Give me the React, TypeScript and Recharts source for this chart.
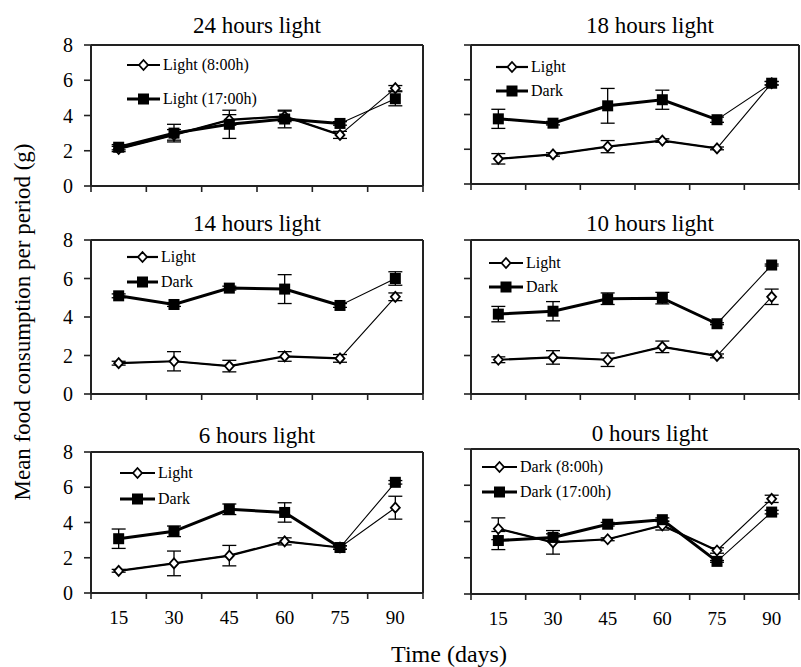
import React from 'react';
import { LineChart, Line, XAxis, YAxis, ErrorBar, ReferenceLine } from 'recharts';

const days = [15, 30, 45, 60, 75, 90];
const yTicks = [0, 2, 4, 6, 8];
const bandEdges = [7.5, 22.5, 37.5, 52.5, 67.5, 82.5, 97.5];

// 24 hours light
const h24Open = [2.1, 2.9, 3.75, 3.95, 2.9, 5.55];
const h24OpenErr = [0.15, 0.3, 0.3, 0.3, 0.2, 0.15];
const h24Filled = [2.2, 3.0, 3.5, 3.8, 3.55, 4.95];
const h24FilledErr = [0.15, 0.5, 0.8, 0.5, 0.1, 0.4];

// 18 hours light
const h18Open = [1.45, 1.7, 2.15, 2.5, 2.05, 5.8];
const h18OpenErr = [0.3, 0.1, 0.35, 0.1, 0.08, 0.1];
const h18Filled = [3.75, 3.5, 4.5, 4.85, 3.7, 5.8];
const h18FilledErr = [0.55, 0.1, 1.0, 0.55, 0.15, 0.1];

// 14 hours light
const h14Open = [1.6, 1.7, 1.45, 1.95, 1.85, 5.05];
const h14OpenErr = [0.1, 0.5, 0.3, 0.25, 0.2, 0.2];
const h14Filled = [5.1, 4.65, 5.5, 5.45, 4.6, 6.0];
const h14FilledErr = [0.1, 0.1, 0.1, 0.75, 0.1, 0.35];

// 10 hours light
const h10Open = [1.78, 1.9, 1.78, 2.45, 1.98, 5.05];
const h10OpenErr = [0.15, 0.35, 0.35, 0.3, 0.1, 0.4];
const h10Filled = [4.15, 4.3, 4.95, 4.98, 3.65, 6.7];
const h10FilledErr = [0.4, 0.5, 0.3, 0.3, 0.05, 0.05];

// 6 hours light
const h6Open = [1.26, 1.68, 2.12, 2.93, 2.58, 4.84];
const h6OpenErr = [0.08, 0.7, 0.58, 0.2, 0.1, 0.65];
const h6Filled = [3.08, 3.5, 4.75, 4.57, 2.58, 6.28];
const h6FilledErr = [0.55, 0.3, 0.3, 0.55, 0.1, 0.1];

// 0 hours light
const h0Open = [3.6, 2.85, 3.02, 3.78, 2.4, 5.25];
const h0OpenErr = [0.6, 0.65, 0.08, 0.25, 0.15, 0.2];
const h0Filled = [2.95, 3.12, 3.85, 4.1, 1.8, 4.52];
const h0FilledErr = [0.5, 0.2, 0.1, 0.1, 0.05, 0.1];

const FONT = "'Liberation Serif', 'DejaVu Serif', serif";
const AXIS = '#222';
const TOP = 14;

const Diamond = (props: any) => {
  const { cx, cy } = props;
  if (cx == null || cy == null) return <g />;
  return (
    <path
      d={`M${cx},${cy - 5}L${cx + 4.5},${cy}L${cx},${cy + 5}L${cx - 4.5},${cy}Z`}
      fill="#fff"
      stroke="#000"
      strokeWidth={1.8}
    />
  );
};

const Square = (props: any) => {
  const { cx, cy } = props;
  if (cx == null || cy == null) return <g />;
  return <rect x={cx - 5.5} y={cy - 5.5} width={11} height={11} fill="#000" />;
};

const panels = [
  { title: '24 hours light', labels: ['Light (8:00h)', 'Light (17:00h)'], open: h24Open, openErr: h24OpenErr, filled: h24Filled, filledErr: h24FilledErr,
    box: { x: 91, y: 45, w: 332, h: 141 }, titlePos: [257, 33], leg: { x1: 127, x2: 160, y1: 65, y2: 99 }, yLabels: true, xLabels: false },
  { title: '18 hours light', labels: ['Light', 'Dark'], open: h18Open, openErr: h18OpenErr, filled: h18Filled, filledErr: h18FilledErr,
    box: { x: 471, y: 45, w: 328, h: 139 }, titlePos: [650, 33], leg: { x1: 496, x2: 528, y1: 67, y2: 91 }, yLabels: false, xLabels: false },
  { title: '14 hours light', labels: ['Light', 'Dark'], open: h14Open, openErr: h14OpenErr, filled: h14Filled, filledErr: h14FilledErr,
    box: { x: 91, y: 240, w: 332, h: 154 }, titlePos: [257, 231], leg: { x1: 127, x2: 158, y1: 257, y2: 282 }, yLabels: true, xLabels: false },
  { title: '10 hours light', labels: ['Light', 'Dark'], open: h10Open, openErr: h10OpenErr, filled: h10Filled, filledErr: h10FilledErr,
    box: { x: 471, y: 240, w: 328, h: 154 }, titlePos: [650, 231], leg: { x1: 489, x2: 523, y1: 263, y2: 287 }, yLabels: false, xLabels: false },
  { title: '6 hours light', labels: ['Light', 'Dark'], open: h6Open, openErr: h6OpenErr, filled: h6Filled, filledErr: h6FilledErr,
    box: { x: 91, y: 452, w: 332, h: 141 }, titlePos: [257, 443], leg: { x1: 120, x2: 155, y1: 473, y2: 499 }, yLabels: true, xLabels: true },
  { title: '0 hours light', labels: ['Dark (8:00h)', 'Dark (17:00h)'], open: h0Open, openErr: h0OpenErr, filled: h0Filled, filledErr: h0FilledErr,
    box: { x: 471, y: 449, w: 328, h: 145 }, titlePos: [650, 441], leg: { x1: 482, x2: 517, y1: 467, y2: 492 }, yLabels: false, xLabels: true },
];

const allXTicks = [...bandEdges, ...days].sort((a, b) => a - b);

function Panel({ p }: { p: any }) {
  const data = days.map((d, i) => ({
    day: d,
    open: p.open[i],
    openErr: p.openErr[i],
    filled: p.filled[i],
    filledErr: p.filledErr[i],
    openHead: i <= 4 ? p.open[i] : null,
    filledHead: i <= 4 ? p.filled[i] : null,
  }));
  const xH = p.xLabels ? 40 : 10;
  const { x, y, w, h } = p.box;

  const xTick = (t: any) => {
    const v = t.payload.value;
    if (days.includes(v)) {
      if (!p.xLabels) return <g />;
      return (
        <text x={t.x} y={t.y + 31} textAnchor="middle" fontSize={19} style={{ fontFamily: FONT }} fill="#000">
          {v}
        </text>
      );
    }
    return <line x1={t.x} x2={t.x} y1={t.y} y2={t.y + 6} stroke={AXIS} strokeWidth={1.6} />;
  };

  const yTick = (t: any) => {
    if (!p.yLabels) return <g />;
    return (
      <text x={t.x} y={t.y + 7} textAnchor="end" fontSize={20} style={{ fontFamily: FONT }} fill="#000">
        {t.payload.value}
      </text>
    );
  };

  return (
    <div style={{ position: 'absolute', left: x - 50, top: y - TOP }}>
      <LineChart width={w + 52} height={h + TOP + xH} data={data} margin={{ top: TOP, right: 2, bottom: 0, left: 0 }}>
        <XAxis
          type="number"
          dataKey="day"
          domain={[7.5, 97.5]}
          ticks={allXTicks}
          interval={0}
          tickSize={0}
          tickMargin={0}
          tickLine={false}
          axisLine={{ stroke: AXIS, strokeWidth: 2 }}
          height={xH}
          tick={xTick}
        />
        <YAxis
          domain={[0, 8]}
          ticks={yTicks}
          interval={0}
          width={50}
          tickSize={7}
          tickMargin={11}
          tickLine={{ stroke: AXIS, strokeWidth: 1.6 }}
          axisLine={{ stroke: AXIS, strokeWidth: 2 }}
          tick={yTick}
        />
        <ReferenceLine y={8} stroke={AXIS} strokeWidth={2} />
        <ReferenceLine x={97.5} stroke={AXIS} strokeWidth={2} />
        <Line dataKey="openHead" stroke="#000" strokeWidth={2.2} dot={false} isAnimationActive={false} />
        <Line dataKey="filledHead" stroke="#000" strokeWidth={3} dot={false} isAnimationActive={false} />
        <Line dataKey="open" stroke="#000" strokeWidth={1.1} dot={<Diamond />} isAnimationActive={false}>
          <ErrorBar dataKey="openErr" direction="y" width={7} stroke="#000" strokeWidth={1.3} />
        </Line>
        <Line dataKey="filled" stroke="#000" strokeWidth={1.1} dot={<Square />} isAnimationActive={false}>
          <ErrorBar dataKey="filledErr" direction="y" width={7} stroke="#000" strokeWidth={1.3} />
        </Line>
      </LineChart>
    </div>
  );
}

function Overlay() {
  return (
    <svg width={801} height={667} style={{ position: 'absolute', left: 0, top: 0, pointerEvents: 'none', fontFamily: FONT }}>
      {panels.map((p) => {
        const { x1, x2, y1, y2 } = p.leg;
        const mx = (x1 + x2) / 2;
        return (
          <g key={p.title} fill="#000">
            <text x={p.titlePos[0]} y={p.titlePos[1]} textAnchor="middle" fontSize={23}>
              {p.title}
            </text>
            <line x1={x1} x2={x2} y1={y1} y2={y1} stroke="#000" strokeWidth={2.2} />
            <Diamond cx={mx} cy={y1} />
            <text x={x2 + 3} y={y1 + 5} fontSize={16}>{p.labels[0]}</text>
            <line x1={x1} x2={x2} y1={y2} y2={y2} stroke="#000" strokeWidth={3} />
            <Square cx={mx} cy={y2} />
            <text x={x2 + 3} y={y2 + 5} fontSize={16}>{p.labels[1]}</text>
          </g>
        );
      })}
      <text x={0} y={0} transform="translate(30, 322) rotate(-90)" textAnchor="middle" fontSize={23} fill="#000">
        Mean food consumption per period (g)
      </text>
      <text x={449} y={662} textAnchor="middle" fontSize={24} fill="#000">
        Time (days)
      </text>
    </svg>
  );
}

export default function App() {
  return (
    <div style={{ position: 'absolute', left: 0, top: 0, width: 801, height: 667, background: '#fff', overflow: 'hidden', fontFamily: FONT }}>
      {panels.map((p) => (
        <Panel key={p.title} p={p} />
      ))}
      <Overlay />
    </div>
  );
}
